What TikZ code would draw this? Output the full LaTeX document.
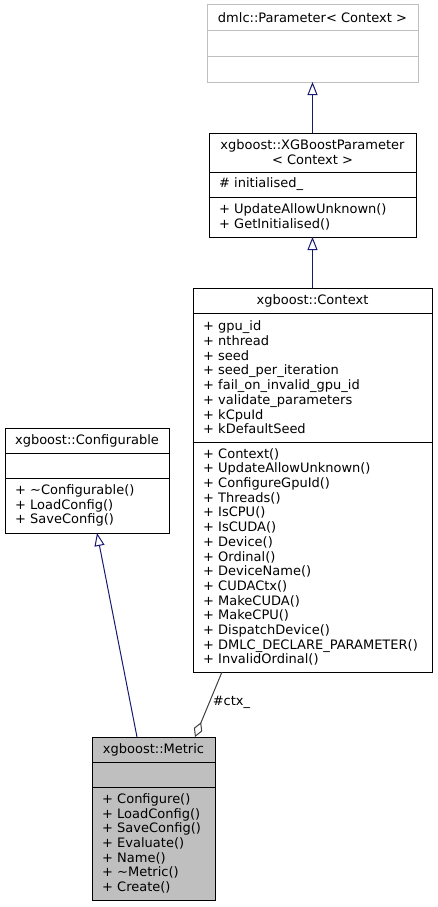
\documentclass[tikz,border=0pt]{standalone}
\usepackage{fontspec}
\setmainfont{DejaVu Sans}
\usepackage{xcolor}
\usepackage{tikz}
\usetikzlibrary{arrows.meta,positioning}
\definecolor{edgeblue}{HTML}{191970}
\definecolor{edgegray}{HTML}{404040}
\definecolor{boxgray}{HTML}{BFBFBF}
\tikzstyle{classhead} = [rectangle, draw=black, line width=1pt, fill=white, align=center, inner xsep=4pt, inner ysep=0pt, outer sep=0pt, font=\fontsize{13}{14.7}\selectfont]
\tikzstyle{classbody} = [rectangle, draw=black, line width=1pt, fill=white, align=left, inner xsep=10pt, inner ysep=0pt, outer sep=0pt, font=\fontsize{13}{14.7}\selectfont]
\tikzstyle{inherit} = [-{Triangle[open, length=13pt, width=10pt]}, draw=edgeblue, line width=1pt]
\tikzstyle{member} = [-{Diamond[open, length=16pt, width=9pt]}, draw=edgegray, line width=1pt]

\begin{document}
\begin{tikzpicture}[x=1pt, y=-1pt]
\useasboundingbox (0,0) rectangle (437,907);
\node[classhead, draw=boxgray, minimum width=211pt, minimum height=26pt, anchor=north] (paramt) at (312.5,5) {dmlc::Parameter< Context >};
\node[classbody, draw=boxgray, text width=191pt, minimum height=26pt, below=0pt of paramt] (parama) {};
\node[classbody, draw=boxgray, text width=191pt, minimum height=25pt, below=0pt of parama] (paramm) {};

\node[classhead, minimum width=207pt, minimum height=39pt, anchor=north] (xgbpt) at (312.5,133) {xgboost::XGBoostParameter\\< Context >};
\node[classbody, text width=187pt, minimum height=25pt, below=0pt of xgbpt] (xgbpa) {\# initialised\_};
\node[classbody, text width=187pt, minimum height=40pt, below=0pt of xgbpa] (xgbpm) {+ UpdateAllowUnknown()\\+ GetInitialised()};

\node[classhead, minimum width=239pt, minimum height=25pt, anchor=north] (ctxt) at (312.5,288) {xgboost::Context};
\node[classbody, text width=219pt, minimum height=129pt, below=0pt of ctxt] (ctxa) {+ gpu\_id\\+ nthread\\+ seed\\+ seed\_per\_iteration\\+ fail\_on\_invalid\_gpu\_id\\+ validate\_parameters\\+ kCpuId\\+ kDefaultSeed};
\node[classbody, text width=219pt, minimum height=230pt, below=0pt of ctxa] (ctxm) {+ Context()\\+ UpdateAllowUnknown()\\+ ConfigureGpuId()\\+ Threads()\\+ IsCPU()\\+ IsCUDA()\\+ Device()\\+ Ordinal()\\+ DeviceName()\\+ CUDACtx()\\+ MakeCUDA()\\+ MakeCPU()\\+ DispatchDevice()\\+ DMLC\_DECLARE\_PARAMETER()\\+ InvalidOrdinal()};

\node[classhead, minimum width=164pt, minimum height=25pt, anchor=north] (cfgt) at (87,428) {xgboost::Configurable};
\node[classbody, text width=144pt, minimum height=25pt, below=0pt of cfgt] (cfga) {};
\node[classbody, text width=144pt, minimum height=55pt, below=0pt of cfga] (cfgm) {+ \textasciitilde Configurable()\\+ LoadConfig()\\+ SaveConfig()};

\node[classhead, fill=boxgray, minimum width=123pt, minimum height=25pt, anchor=north] (mett) at (153.5,737) {xgboost::Metric};
\node[classbody, fill=boxgray, text width=103pt, minimum height=25pt, below=0pt of mett] (meta) {};
\node[classbody, fill=boxgray, text width=103pt, minimum height=113pt, below=0pt of meta] (metm) {+ Configure()\\+ LoadConfig()\\+ SaveConfig()\\+ Evaluate()\\+ Name()\\+ \textasciitilde Metric()\\+ Create()};

\draw[inherit] (xgbpt.north) -- (paramm.south);
\draw[inherit] (ctxt.north) -- (xgbpm.south);
\draw[inherit] ([xshift=-16.5pt]mett.north) -- ([xshift=10pt]cfgm.south);
\draw[member] ([xshift=-90.5pt]ctxm.south) -- node[right, pos=0.47, inner sep=3pt, font=\fontsize{13}{14.7}\selectfont] {\#ctx\_} ([xshift=41.5pt]mett.north);
\end{tikzpicture}
\end{document}
